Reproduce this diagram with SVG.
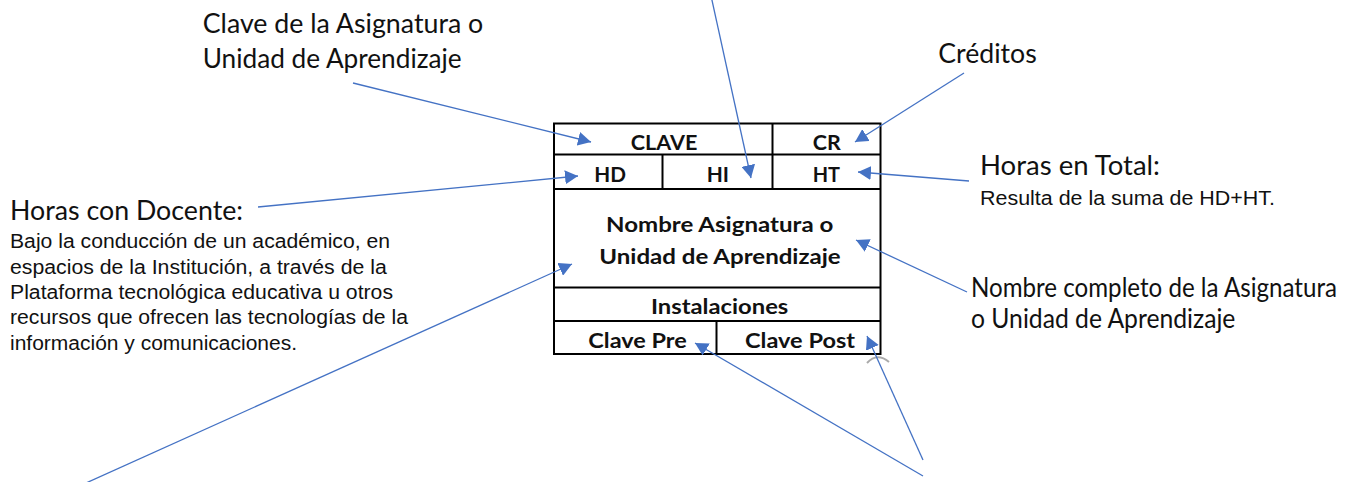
<svg xmlns="http://www.w3.org/2000/svg" width="1361" height="482" viewBox="0 0 1361 482">
<style>
.cell{fill:none;stroke:#000;stroke-width:2}
.tt{font-family:Lato,"Open Sans",sans-serif;font-weight:bold;font-size:20.5px;fill:#111}
.hd{font-family:Lato,"Open Sans",sans-serif;font-size:27px;fill:#111}
.bd{font-family:"Liberation Sans",Arial,sans-serif;font-size:20px;fill:#111}
.cn{stroke:#4472C4;stroke-width:1.3;fill:none;marker-end:url(#ah)}
</style>
<defs>
<marker id="ah" markerUnits="userSpaceOnUse" markerWidth="14" markerHeight="14" refX="13" refY="7" orient="auto">
<path d="M0,0 L13,7 L0,14 Z" fill="#4472C4"/>
</marker>
</defs>
<rect width="1361" height="482" fill="#fff"/>
<g id="tabla">
<rect class="cell" x="554" y="123.5" width="326.5" height="230.5"/>
<line class="cell" x1="554" y1="154.5" x2="880.5" y2="154.5"/>
<line class="cell" x1="554" y1="189" x2="880.5" y2="189"/>
<line class="cell" x1="554" y1="287.5" x2="880.5" y2="287.5"/>
<line class="cell" x1="554" y1="321" x2="880.5" y2="321"/>
<line class="cell" x1="772.5" y1="123.5" x2="772.5" y2="189"/>
<line class="cell" x1="662.5" y1="154.5" x2="662.5" y2="189"/>
<line class="cell" x1="716.5" y1="321" x2="716.5" y2="354"/>
<text class="tt" x="630.7" y="150" textLength="66.6" lengthAdjust="spacingAndGlyphs">CLAVE</text>
<text class="tt" x="812.7" y="150" textLength="28" lengthAdjust="spacingAndGlyphs">CR</text>
<text class="tt" x="594.3" y="181.7" textLength="31.7" lengthAdjust="spacingAndGlyphs">HD</text>
<text class="tt" x="706.7" y="181.7" textLength="22.3" lengthAdjust="spacingAndGlyphs">HI</text>
<text class="tt" x="812.7" y="181.7" textLength="27.3" lengthAdjust="spacingAndGlyphs">HT</text>
<text class="tt" x="606" y="231.7" textLength="227.3" lengthAdjust="spacingAndGlyphs">Nombre Asignatura o</text>
<text class="tt" x="599.3" y="264" textLength="241.4" lengthAdjust="spacingAndGlyphs">Unidad de Aprendizaje</text>
<text class="tt" x="651" y="314" textLength="137.3" lengthAdjust="spacingAndGlyphs">Instalaciones</text>
<text class="tt" x="588.3" y="348.3" textLength="98.4" lengthAdjust="spacingAndGlyphs">Clave Pre</text>
<text class="tt" x="745" y="348.3" textLength="110" lengthAdjust="spacingAndGlyphs">Clave Post</text>
<path d="M867,363 Q877,352 889,362" fill="none" stroke="#aaa" stroke-width="2"/>
</g>
<g id="clave-label">
<text class="hd" x="202.7" y="33.3" textLength="280.6" lengthAdjust="spacingAndGlyphs">Clave de la Asignatura o</text>
<text class="hd" x="202.7" y="68.3" textLength="259" lengthAdjust="spacingAndGlyphs">Unidad de Aprendizaje</text>
</g>
<g id="creditos-label">
<text class="hd" x="938.3" y="63.3" textLength="98.4" lengthAdjust="spacingAndGlyphs">Créditos</text>
</g>
<g id="ht-label">
<text class="hd" x="980" y="175" textLength="180" lengthAdjust="spacingAndGlyphs">Horas en Total:</text>
<text class="bd" x="980" y="205" textLength="295" lengthAdjust="spacingAndGlyphs">Resulta de la suma de HD+HT.</text>
</g>
<g id="hd-label">
<text class="hd" x="10" y="220" textLength="233" lengthAdjust="spacingAndGlyphs">Horas con Docente:</text>
<text class="bd" x="10" y="248.3" textLength="380" lengthAdjust="spacingAndGlyphs">Bajo la conducción de un académico, en</text>
<text class="bd" x="10" y="274" textLength="376.7" lengthAdjust="spacingAndGlyphs">espacios de la Institución, a través de la</text>
<text class="bd" x="10" y="299" textLength="383" lengthAdjust="spacingAndGlyphs">Plataforma tecnológica educativa u otros</text>
<text class="bd" x="10" y="324.3" textLength="398" lengthAdjust="spacingAndGlyphs">recursos que ofrecen las tecnologías de la</text>
<text class="bd" x="10" y="350" textLength="287" lengthAdjust="spacingAndGlyphs">información y comunicaciones.</text>
</g>
<g id="nombre-label">
<text class="hd" x="971" y="296.7" font-size="25" textLength="366" lengthAdjust="spacingAndGlyphs">Nombre completo de la Asignatura</text>
<text class="hd" x="971" y="328.3" textLength="264.4" lengthAdjust="spacingAndGlyphs">o Unidad de Aprendizaje</text>
</g>
<g id="conectores">
<line class="cn" x1="353" y1="83" x2="591" y2="142"/>
<line class="cn" x1="711.5" y1="-2" x2="751" y2="178"/>
<line class="cn" x1="964" y1="73" x2="855" y2="142"/>
<line class="cn" x1="969" y1="181" x2="858" y2="172"/>
<line class="cn" x1="258" y1="207" x2="578" y2="176"/>
<line class="cn" x1="967" y1="292" x2="856" y2="240"/>
<line class="cn" x1="86" y1="483" x2="572" y2="264"/>
<line class="cn" x1="923" y1="476" x2="695" y2="343"/>
<line class="cn" x1="923" y1="460" x2="867" y2="336"/>
</g>
</svg>
